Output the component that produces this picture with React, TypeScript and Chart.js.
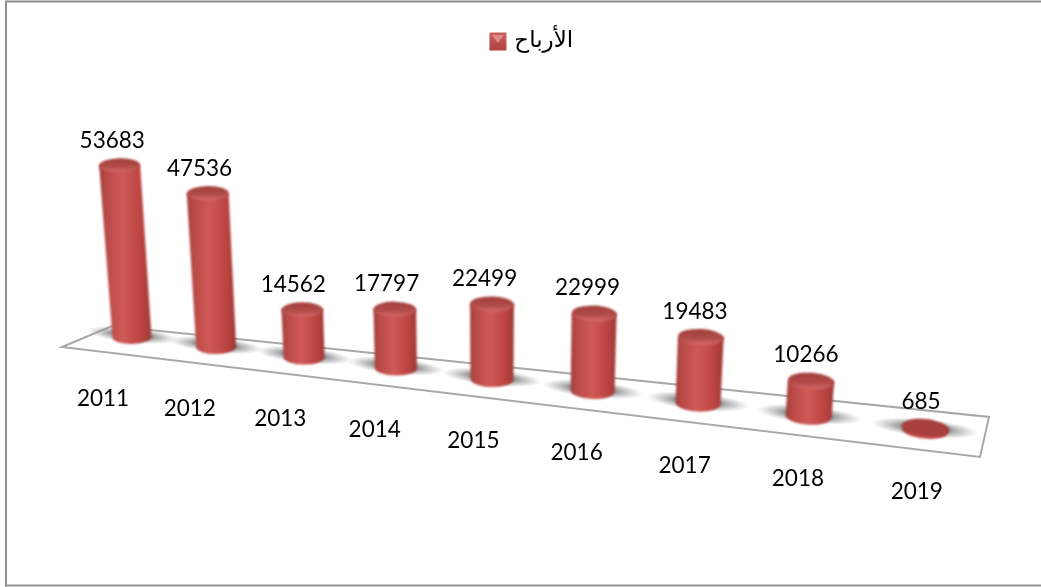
import React, { useEffect, useRef } from "react";
import { Chart, registerables } from "chart.js";

Chart.register(...registerables);

const years = ["2011", "2012", "2013", "2014", "2015", "2016", "2017", "2018", "2019"];
const profits = [53683, 47536, 14562, 17797, 22499, 22999, 19483, 10266, 685];
const seriesName = "الأرباح";

const LATIN_FONT = "22.5px Lato, Carlito, sans-serif";
const W = 1041;
const H = 587;

// Oblique projection of the chart's flat scales on a tilted floor
const baseX = (t: number) => (79.63 * t + 132) / (1 - 0.02107 * t);
const baseY = (x: number) => 337 + 0.1173 * (x - 132);
const UNIT_HEIGHT = 200; // projected height of the full value axis

function makeSwatch() {
  const c = document.createElement("canvas");
  c.width = 18;
  c.height = 19;
  const g = c.getContext("2d");
  if (g) {
    g.filter = "blur(0.7px)";
    const grad = g.createLinearGradient(0, 0, 0, 19);
    grad.addColorStop(0, "#c9605d");
    grad.addColorStop(1, "#b0413e");
    g.fillStyle = grad;
    g.fillRect(0.5, 0.5, 17, 18);
    g.fillStyle = "#e08a87";
    g.beginPath();
    g.moveTo(3, 3);
    g.lineTo(15, 3);
    g.lineTo(9, 11);
    g.closePath();
    g.fill();
  }
  return c;
}

const scenePlugin = {
  id: "scene",
  beforeDraw(chart: any) {
    const { ctx } = chart;
    ctx.save();
    ctx.fillStyle = "#ffffff";
    ctx.fillRect(0, 0, W, H);
    ctx.strokeStyle = "#8f8f8f";
    ctx.lineWidth = 2;
    ctx.beginPath();
    ctx.moveTo(W, 1.5);
    ctx.lineTo(6, 1.5);
    ctx.lineTo(6, 585.5);
    ctx.lineTo(W, 585.5);
    ctx.stroke();
    ctx.restore();
  },
  afterDatasetsDraw(chart: any) {
    const { ctx, chartArea } = chart;
    const meta = chart.getDatasetMeta(0);
    const xScale = chart.scales.x;
    const bars = meta.data.map((el: any, i: number) => {
      const t = xScale.getValueForPixel(el.x);
      const bx = baseX(t);
      const by = baseY(bx);
      const s = 0.96 + 0.01 * t;
      const h = ((el.base - el.y) / chartArea.height) * UNIT_HEIGHT * s;
      const lean = (bx - 492) * 0.0002;
      const tx = bx + lean * h;
      const ty = by - h;
      const bw = 39 + t;
      const tw = bw + h * 0.012;
      const semi = 7 + 0.2 * t;
      const rot = h < 6 ? 0.1 : 0.012 * (t - 2);
      return { i, t, bx, by, h, tx, ty, bw, tw, semi, rot };
    });

    // Floor
    ctx.save();
    ctx.strokeStyle = "#a8a8a8";
    ctx.lineWidth = 2;
    ctx.fillStyle = "#ffffff";
    ctx.beginPath();
    ctx.moveTo(62, 347);
    ctx.lineTo(112, 326);
    ctx.lineTo(989, 417);
    ctx.lineTo(980, 457);
    ctx.closePath();
    ctx.fill();
    ctx.stroke();
    ctx.restore();

    // Soft shadows
    bars.forEach((b: any) => {
      ctx.save();
      ctx.translate(b.bx, b.by - 2);
      ctx.rotate(0.1);
      ctx.scale(1, 0.17);
      const r = 38 + b.t;
      const g = ctx.createRadialGradient(0, 0, r * 0.5, 0, 0, r + 8);
      g.addColorStop(0, "rgba(115,115,115,0.8)");
      g.addColorStop(0.5, "rgba(150,150,150,0.45)");
      g.addColorStop(1, "rgba(170,170,170,0)");
      ctx.fillStyle = g;
      ctx.beginPath();
      ctx.arc(0, 0, r + 8, 0, Math.PI * 2);
      ctx.fill();
      ctx.restore();
    });

    // Cylinders
    bars.forEach((b: any) => {
      ctx.save();
      ctx.filter = "blur(1px)";
      const left = Math.min(b.bx - b.bw / 2, b.tx - b.tw / 2);
      const right = Math.max(b.bx + b.bw / 2, b.tx + b.tw / 2);
      const g = ctx.createLinearGradient(left, 0, right, 0);
      g.addColorStop(0, "#a2403d");
      g.addColorStop(0.14, "#b94a47");
      g.addColorStop(0.45, "#cf5956");
      g.addColorStop(0.8, "#bb4441");
      g.addColorStop(1, "#9f3a37");
      ctx.fillStyle = g;
      ctx.beginPath();
      ctx.moveTo(b.tx - b.tw / 2, b.ty);
      ctx.lineTo(b.bx - b.bw / 2, b.by);
      ctx.ellipse(b.bx, b.by, b.bw / 2, b.semi, b.rot, Math.PI, 0, true);
      ctx.lineTo(b.tx + b.tw / 2, b.ty);
      ctx.closePath();
      ctx.fill();

      const capY = b.ty;
      const cap = ctx.createLinearGradient(0, capY - b.semi, 0, capY + b.semi);
      cap.addColorStop(0, "#a03f3c");
      cap.addColorStop(0.55, "#b04a47");
      cap.addColorStop(1, "#d56a67");
      ctx.fillStyle = b.h < 6 ? "#a8403d" : cap;
      ctx.beginPath();
      ctx.ellipse(b.tx, capY, b.tw / 2, b.semi, b.rot, 0, Math.PI * 2);
      ctx.fill();
      ctx.restore();
    });

    // Texts
    ctx.save();
    ctx.font = LATIN_FONT;
    ctx.fillStyle = "#000000";
    ctx.textAlign = "center";
    ctx.textBaseline = "middle";
    bars.forEach((b: any) => {
      const dx = -9 + 0.8 * Math.abs(b.t - 2);
      ctx.fillText(String(profits[b.i]), b.tx + dx, b.ty - b.semi - 17.5);
      ctx.fillText(years[b.i], b.bx - 29 + 2.6 * b.t, b.by + 62);
    });
    ctx.restore();
  },
};

export default function App() {
  const ref = useRef<HTMLCanvasElement | null>(null);
  useEffect(() => {
    document.body.style.margin = "0";
    document.body.style.background = "#ffffff";
    if (!ref.current) return;
    const chart = new Chart(ref.current, {
      type: "bar",
      data: {
        labels: years,
        datasets: [
          {
            label: seriesName,
            data: profits,
            backgroundColor: "rgba(0,0,0,0)",
            borderWidth: 0,
          },
        ],
      },
      options: {
        animation: false,
        responsive: false,
        layout: { padding: { top: 22, left: 25, bottom: 240, right: 0 } },
        scales: {
          x: { display: false },
          y: { display: false, min: 0, max: 60000 },
        },
        plugins: {
          tooltip: { enabled: false },
          legend: {
            position: "top",
            labels: {
              usePointStyle: true,
              pointStyle: makeSwatch(),
              pointStyleWidth: 10,
              color: "#000000",
              font: { family: "'DejaVu Sans', 'Noto Sans'", size: 23 },
              padding: 8,
            },
          },
        },
      },
      plugins: [scenePlugin],
    } as any);
    return () => chart.destroy();
  }, []);
  return (
    <canvas
      ref={ref}
      width={W}
      height={H}
      style={{ position: "fixed", left: 0, top: 0, display: "block" }}
    />
  );
}
